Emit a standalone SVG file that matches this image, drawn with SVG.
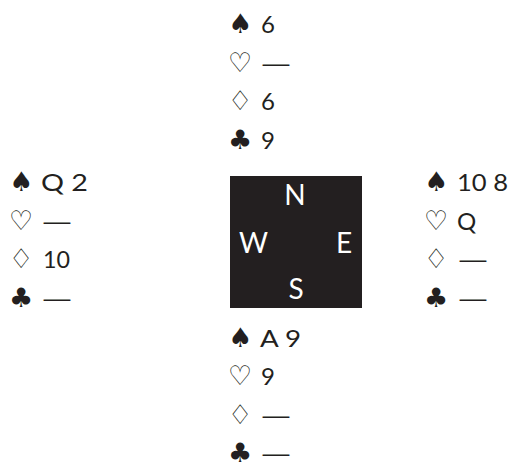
<svg xmlns="http://www.w3.org/2000/svg" width="510" height="467" viewBox="0 0 510 467">
<style>
.s{font-family:"DejaVu Sans",sans-serif;font-size:27px;fill:#231f20}
.o{font-family:"DejaVu Sans",sans-serif;font-size:27px;fill:#231f20}
.t{font-family:Lato,"Open Sans",sans-serif;font-size:24px;fill:#231f20}
.c{font-family:Lato,"Open Sans",sans-serif;font-size:28px;fill:#ffffff;text-anchor:middle}
</style>
<rect width="510" height="467" fill="#ffffff"/>
<g id="north">
<text class="s" x="228" y="33">♠</text><text class="t" x="261" y="33">6</text>
<text class="o" x="228" y="71.5">♡</text><text class="t" x="260" y="71.5" textLength="32" lengthAdjust="spacingAndGlyphs">—</text>
<text class="o" x="228" y="110">♢</text><text class="t" x="261" y="110">6</text>
<text class="s" x="228" y="148.5">♣</text><text class="t" x="261" y="148.5">9</text>
</g>
<g id="west">
<text class="s" x="9" y="191">♠</text><text class="t" x="41" y="191" textLength="47" lengthAdjust="spacingAndGlyphs">Q 2</text>
<text class="o" x="9" y="229.5">♡</text><text class="t" x="41" y="229.5" textLength="32" lengthAdjust="spacingAndGlyphs">—</text>
<text class="o" x="9" y="268">♢</text><text class="t" x="43" y="268" textLength="27" lengthAdjust="spacingAndGlyphs">10</text>
<text class="s" x="9" y="306.5">♣</text><text class="t" x="41" y="306.5" textLength="32" lengthAdjust="spacingAndGlyphs">—</text>
</g>
<g id="east">
<text class="s" x="424" y="191">♠</text><text class="t" x="457" y="191" textLength="51" lengthAdjust="spacingAndGlyphs">10 8</text>
<text class="o" x="424" y="229.5">♡</text><text class="t" x="457" y="229.5">Q</text>
<text class="o" x="424" y="268">♢</text><text class="t" x="457" y="268" textLength="32" lengthAdjust="spacingAndGlyphs">—</text>
<text class="s" x="424" y="306.5">♣</text><text class="t" x="457" y="306.5" textLength="32" lengthAdjust="spacingAndGlyphs">—</text>
</g>
<g id="south">
<text class="s" x="228" y="346.5">♠</text><text class="t" x="260" y="346.5" textLength="41" lengthAdjust="spacingAndGlyphs">A 9</text>
<text class="o" x="228" y="385">♡</text><text class="t" x="261" y="385">9</text>
<text class="o" x="228" y="423.5">♢</text><text class="t" x="260" y="423.5" textLength="32" lengthAdjust="spacingAndGlyphs">—</text>
<text class="s" x="228" y="462">♣</text><text class="t" x="260" y="462" textLength="32" lengthAdjust="spacingAndGlyphs">—</text>
</g>
<g id="compass">
<rect x="230" y="176" width="132" height="132" fill="#231f20"/>
<text class="c" x="295" y="205">N</text>
<text class="c" x="253.5" y="252.5">W</text>
<text class="c" x="344" y="252.5">E</text>
<text class="c" x="296" y="299">S</text>
</g>
<g id="connectors"/>
</svg>
